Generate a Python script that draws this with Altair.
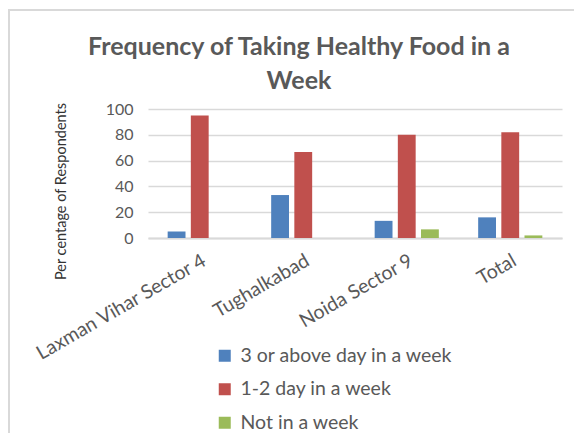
import altair as alt
import pandas as pd

categories = ["Laxman Vihar Sector 4", "Tughalkabad", "Noida Sector 9", "Total"]
series = ["3 or above day in a week", "1-2 day in a week", "Not in a week"]
three_plus = [5, 33.3, 13.3, 16]
one_two = [95, 66.7, 80, 82]
not_in_week = [0, 0, 6.7, 2]
colors = ["#4F81BD", "#C0504D", "#9BBB59"]
y_ticks = [0, 20, 40, 60, 80, 100]

rows = []
for s, vals in zip(series, [three_plus, one_two, not_in_week]):
    for c, v in zip(categories, vals):
        rows.append({"Category": c, "Series": s, "Value": v})
df = pd.DataFrame(rows)

FONT = "Lato"
GRAY = "#595959"

bars = alt.Chart(df).mark_bar().encode(
    x=alt.X("Category:N", sort=categories,
            scale=alt.Scale(paddingInner=0.38, paddingOuter=0.19),
            axis=alt.Axis(title=None, labelAngle=-30, labelAlign="right",
                          labelBaseline="top", labelPadding=13, labelFont=FONT,
                          labelFontSize=19.5, labelColor=GRAY, ticks=False,
                          domainColor="#d9d9d9", domainWidth=2, grid=False,
                          labelOverlap=False, labelLimit=400)),
    xOffset=alt.XOffset("Series:N", sort=series,
                        scale=alt.Scale(paddingInner=0.23, paddingOuter=0)),
    y=alt.Y("Value:Q", scale=alt.Scale(domain=[0, 100]),
            axis=alt.Axis(title="Per centage of Respondents", values=y_ticks,
                          domain=False, ticks=False, gridColor="#d9d9d9",
                          gridWidth=1.5, labelFont=FONT, labelFontSize=16,
                          labelColor=GRAY, labelPadding=15,
                          titleFont=FONT, titleFontSize=14.5, titleFontWeight="normal",
                          titleColor="#333333", titleX=-87, titleY=82,
                          titleAngle=270, titleAlign="center", titleBaseline="middle")),
    color=alt.Color("Series:N", sort=series,
                    scale=alt.Scale(domain=series, range=colors),
                    legend=alt.Legend(title=None, orient="none", legendX=67,
                                      legendY=237, direction="vertical",
                                      symbolType="square", symbolSize=144,
                                      symbolStrokeWidth=0, labelFont=FONT,
                                      labelFontSize=19.5, labelColor=GRAY,
                                      labelOffset=6, rowPadding=12.5, padding=0,
                                      labelLimit=400)),
)

frame_df = pd.DataFrame({"a": [0]})
left_rule = alt.Chart(frame_df).mark_rule(color="#d9d9d9", strokeWidth=2).encode(
    x=alt.value(-139), y=alt.value(-99), y2=alt.value(330))
top_rule = alt.Chart(frame_df).mark_rule(color="#d9d9d9", strokeWidth=2).encode(
    x=alt.value(-140), x2=alt.value(430), y=alt.value(-99))

chart = alt.layer(left_rule, top_rule, bars).properties(
    width=414, height=129,
    autosize=alt.AutoSizeParams(type="none"),
    padding={"left": 140, "top": 101, "right": 12, "bottom": 195},
    title=alt.TitleParams(text=["Frequency of Taking Healthy Food in a", "Week"],
                          font=FONT, fontSize=25, fontWeight="bold", color=GRAY,
                          anchor="middle", dx=-56, lineHeight=34, offset=-85),
).configure_view(stroke=None)

chart.save("out.html", embed_options={"renderer": "svg", "actions": False})
